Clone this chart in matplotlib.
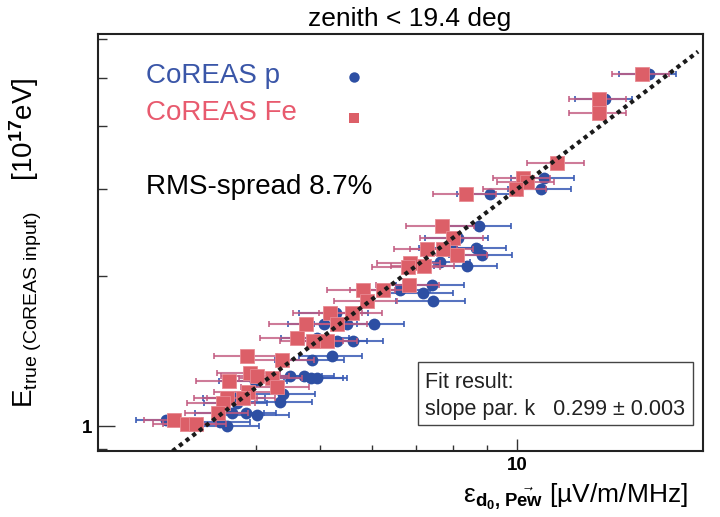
import matplotlib
matplotlib.use('Agg')
from matplotlib import pyplot as plt
from matplotlib.ticker import FixedLocator, FixedFormatter, NullFormatter
from matplotlib.patches import Rectangle

plt.rcParams['font.family'] = ['Liberation Sans', 'DejaVu Sans']
plt.rcParams['mathtext.fontset'] = 'custom'
plt.rcParams['mathtext.rm'] = 'Liberation Sans'
plt.rcParams['mathtext.it'] = 'Liberation Sans:italic'
plt.rcParams['mathtext.bf'] = 'Liberation Sans:bold'

# CoREAS proton: radio energy estimator [uV/m/MHz] vs true energy [1e17 eV]
p_eps = [15.90, 13.63, 11.00, 10.88, 9.09, 8.75, 8.13, 8.66, 8.84, 7.96, 7.63, 8.39,
         7.42, 7.19, 7.44, 6.63, 5.29, 5.50, 5.08, 6.05, 5.31, 5.62, 4.95, 4.86, 5.22,
         4.50, 4.73, 4.85, 4.95, 3.98, 4.39, 4.35, 3.74, 3.72, 3.67, 3.86, 4.01, 2.91,
         3.52, 3.61]
p_e = [5.09, 4.54, 3.15, 2.99, 2.92, 2.52, 2.39, 2.28, 2.21, 2.28, 2.14, 2.10,
       1.92, 1.85, 1.78, 1.88, 1.69, 1.60, 1.60, 1.60, 1.48, 1.48, 1.50, 1.36, 1.38,
       1.26, 1.26, 1.25, 1.25, 1.23, 1.16, 1.12, 1.11, 1.14, 1.06, 1.06, 1.05, 1.03,
       1.02, 1.00]
p_rel = [0.10, 0.10, 0.11, 0.11, 0.11, 0.12, 0.11, 0.11, 0.11, 0.11, 0.11, 0.11,
         0.12, 0.11, 0.12, 0.11, 0.12, 0.11, 0.12, 0.11, 0.11, 0.11, 0.12, 0.12, 0.11,
         0.12, 0.11, 0.12, 0.11, 0.12, 0.12, 0.12, 0.11, 0.11, 0.12, 0.11, 0.12, 0.10,
         0.11, 0.12]

# CoREAS iron
fe_eps = [15.51, 13.34, 13.34, 11.51, 10.21, 10.36, 9.97, 8.36, 7.68, 7.99, 7.29, 7.71,
          8.10, 6.87, 6.82, 7.21, 5.82, 6.24, 6.84, 5.90, 5.18, 5.60, 5.31, 4.76, 4.61,
          4.88, 5.13, 3.87, 4.38, 3.91, 4.01, 3.63, 4.23, 4.30, 3.88, 3.82, 3.61, 3.56,
          3.50, 3.00, 3.13, 3.24]
fe_e = [5.09, 4.54, 4.25, 3.37, 3.15, 3.09, 2.99, 2.92, 2.52, 2.39, 2.27, 2.27,
        2.21, 2.13, 2.09, 2.10, 1.88, 1.88, 1.92, 1.78, 1.69, 1.69, 1.60, 1.60, 1.50,
        1.48, 1.48, 1.38, 1.36, 1.28, 1.26, 1.23, 1.25, 1.20, 1.17, 1.14, 1.14, 1.11,
        1.06, 1.03, 1.01, 1.01]
fe_rel = [0.10, 0.10, 0.10, 0.10, 0.10, 0.10, 0.11, 0.11, 0.12, 0.11, 0.11, 0.11,
          0.11, 0.11, 0.12, 0.11, 0.12, 0.11, 0.11, 0.11, 0.12, 0.11, 0.11, 0.12, 0.12,
          0.11, 0.11, 0.11, 0.12, 0.11, 0.12, 0.11, 0.11, 0.12, 0.11, 0.12, 0.11, 0.12,
          0.11, 0.10, 0.11, 0.11]

k_fit = 0.299
fit_x = [2.98, 18.9]

blue = '#2d4fa3'
red = '#dc5f68'

W, H = 720, 517
fig = plt.figure(figsize=(7.2, 5.17), dpi=100)
ax = fig.add_axes([98 / W, 1 - 451 / H, 605 / W, 417 / H])
ax.set_xscale('log')
ax.set_yscale('log')

p_err = [v * r for v, r in zip(p_eps, p_rel)]
fe_err = [v * r for v, r in zip(fe_eps, fe_rel)]

ax.errorbar(p_eps, p_e, xerr=p_err, fmt='none', ecolor='#3a5bb5', elinewidth=1.5,
            capsize=2, capthick=1.4, alpha=0.85, zorder=2)
ax.plot(p_eps, p_e, 'o', color=blue, markersize=8.5, markeredgewidth=0, zorder=3)
ax.errorbar(fe_eps, fe_e, xerr=fe_err, fmt='none', ecolor='#c25a80', elinewidth=1.5,
            capsize=2, capthick=1.4, alpha=0.8, zorder=4)
ax.plot(fe_eps, fe_e, 's', color=red, markersize=9.5, markeredgecolor='#e88a92',
        markeredgewidth=0.6, zorder=5)

ax.plot(fit_x, [k_fit * v for v in fit_x], color='#1a1a1a', linewidth=3,
        linestyle=(0, (1, 1)), zorder=6)

ax.set_xlim(2.293, 19.23)
ax.set_ylim(0.891, 6.13)

ax.xaxis.set_major_locator(FixedLocator([10]))
ax.xaxis.set_major_formatter(FixedFormatter(['10']))
ax.xaxis.set_minor_locator(FixedLocator([4, 5, 6, 7, 8, 9]))
ax.xaxis.set_minor_formatter(NullFormatter())
ax.yaxis.set_major_locator(FixedLocator([1]))
ax.yaxis.set_major_formatter(FixedFormatter(['1']))
ax.yaxis.set_minor_locator(FixedLocator([0.9, 2, 3, 4, 5, 6]))
ax.yaxis.set_minor_formatter(NullFormatter())

ax.tick_params(which='both', direction='in', top=False, right=False, width=1, color='#333333')
ax.tick_params(axis='x', which='major', length=8.5, pad=4)
ax.tick_params(axis='x', which='minor', length=4.3)
ax.tick_params(axis='y', which='major', length=12, pad=4)
ax.tick_params(axis='y', which='minor', length=6.5)
for lab in ax.get_xticklabels() + ax.get_yticklabels():
    lab.set_fontsize(13.5)
    lab.set_fontweight('bold')
for s in ax.spines.values():
    s.set_linewidth(1.5)
    s.set_color('#222222')


def fx(px):
    return px / W


def fy(py):
    return 1 - py / H


fig.text(fx(410), fy(26), 'zenith < 19.4 deg', fontsize=19, ha='center', va='baseline')

fig.text(fx(146), fy(83), 'CoREAS p', fontsize=20, color='#3a56a8', va='baseline')
fig.text(fx(146), fy(120), 'CoREAS Fe', fontsize=20, color='#e85a6e', va='baseline')
fig.lines.append(plt.Line2D([fx(354)], [fy(77)], marker='o', color=blue, markersize=7.5,
                            markeredgewidth=0, transform=fig.transFigure))
fig.lines.append(plt.Line2D([fx(354)], [fy(118)], marker='s', color=red, markersize=7.5,
                            markeredgewidth=0, transform=fig.transFigure))
fig.text(fx(146), fy(194), 'RMS-spread 8.7%', fontsize=20, va='baseline')

fig.patches.append(Rectangle((fx(418), fy(425)), (693 - 418) / W, (425 - 362) / H,
                             transform=fig.transFigure, facecolor='white',
                             edgecolor='#444444', linewidth=1, zorder=7))
fig.text(fx(425), fy(388), 'Fit result:', fontsize=15.5, color='#222222', va='baseline', zorder=8)
fig.text(fx(425), fy(415), 'slope par. k   0.299 \u00b1 0.003', fontsize=15.5,
         color='#222222', va='baseline', zorder=8)

fig.text(fx(688), fy(503),
         '\u03b5' + r'$_{\mathbf{d_0}\mathbf{,}\ \vec{\mathbf{Pew}}}$' + ' [\u00b5V/m/MHz]',
         fontsize=19, ha='right', va='baseline')

fig.text(fx(33), fy(408),
         r'E$_{\mathregular{true\ (CoREAS\ input)}}$    [10$^{\mathbf{17}}$eV]',
         fontsize=20, rotation=90, rotation_mode='anchor', ha='left', va='baseline')

plt.savefig('out.png', dpi=100)
